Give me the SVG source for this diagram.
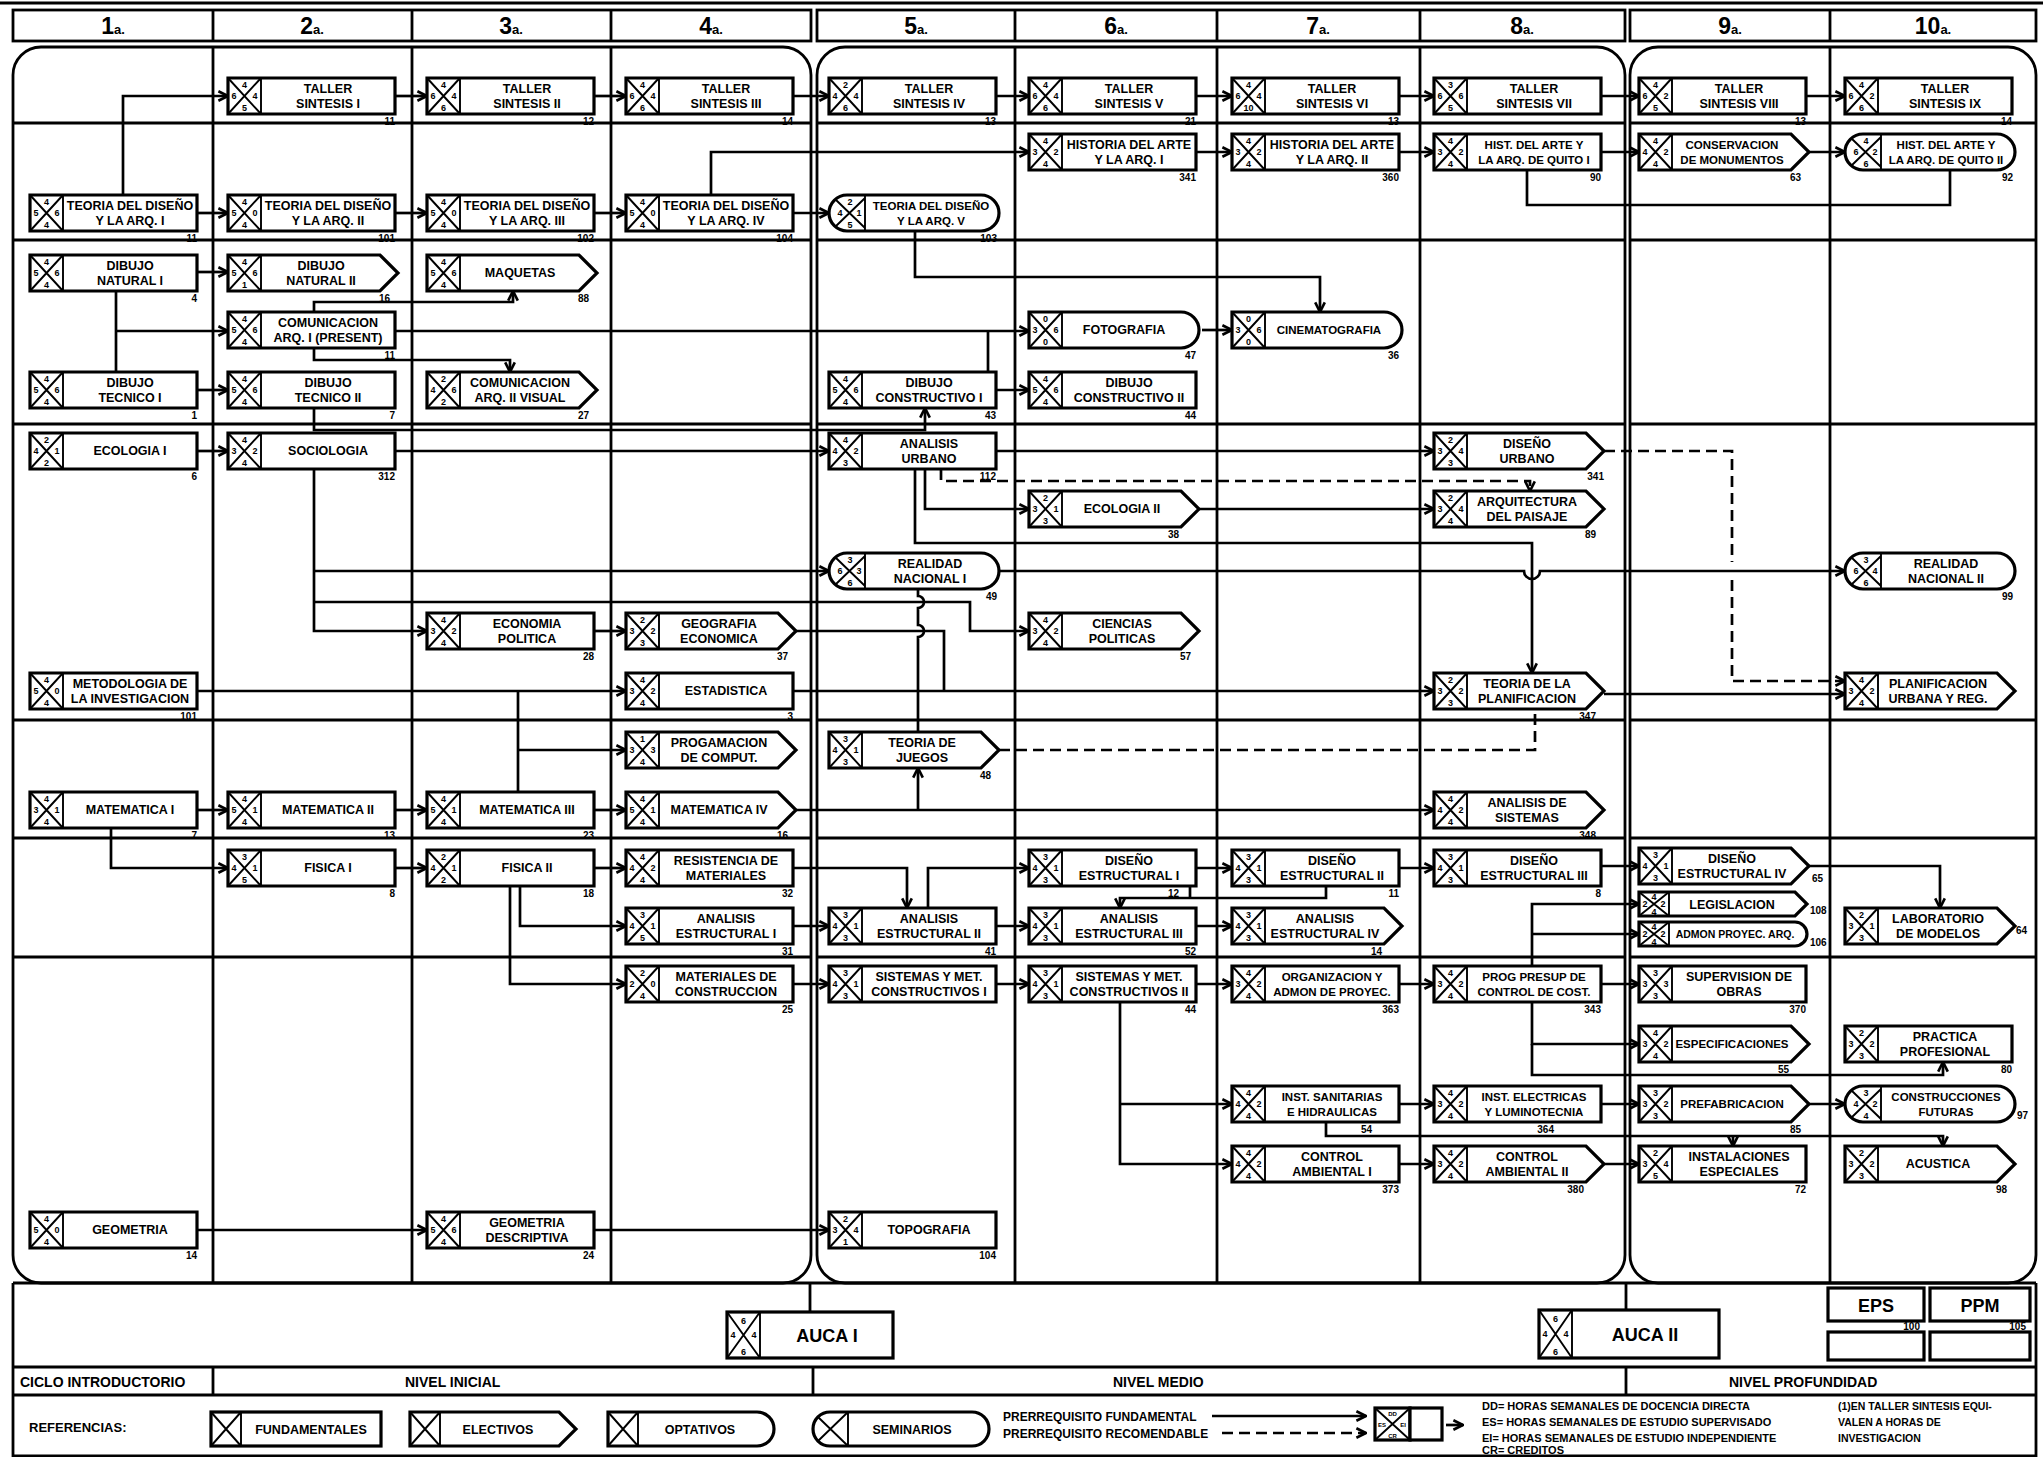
<svg xmlns="http://www.w3.org/2000/svg" width="2043" height="1457" viewBox="0 0 2043 1457">
<defs>
<style>
.g{stroke:#000;stroke-width:2.8;fill:none}
.c{stroke:#000;stroke-width:2.7;fill:none;marker-end:url(#a)}
.c0{stroke:#000;stroke-width:2.7;fill:none}
.d{stroke-dasharray:11 6}
.nb{fill:#fff;stroke:#000;stroke-width:3.2}
.xq{fill:none;stroke:#000;stroke-width:1.9}
text{font-family:"Liberation Sans",Arial,sans-serif;font-weight:bold;fill:#000}
.lb{font-size:12.5px;text-anchor:middle}
.ls{font-size:11.5px;text-anchor:middle}
.cd{font-size:9px;text-anchor:middle}
.nm{font-size:10px;text-anchor:end}
.ns{font-size:10px;text-anchor:start}
.hd{font-size:23px;text-anchor:middle}
.nv{font-size:14px}
.sm{font-size:11px}
</style>
<marker id="a" viewBox="0 0 10 10" refX="9" refY="5" markerWidth="12" markerHeight="12" markerUnits="userSpaceOnUse" orient="auto"><path d="M1,1L9,5L1,9" fill="none" stroke="#000" stroke-width="2.2"/></marker>
<path id="r" d="M0,0H167V36H0Z"/>
<path id="p" d="M0,0H152L170,18L152,36H0Z"/>
<path id="o" d="M0,0H152A18,18 0 0 1 152,36H0Z"/>
<path id="s" d="M18,0H152A18,18 0 0 1 152,36H18A18,18 0 0 1 18,0Z"/>
<path id="x" d="M33,0V36M0,0L33,36M33,0L0,36"/>
<path id="xs" d="M36,0V36M6,4L36,33M36,3L6,32"/>
<path id="p24" d="M0,0H156L168,12L156,24H0Z"/>
<path id="o24" d="M0,0H156A12,12 0 0 1 156,24H0Z"/>
<path id="x24" d="M30,0V24M0,0L30,24M30,0L0,24"/>
</defs>
<rect x="0" y="0" width="2043" height="1457" fill="#fff"/>

<g id="grid">
<path class="g" d="M0,3H2043"/>
<rect class="g" x="13" y="10" width="798" height="31"/>
<rect class="g" x="817" y="10" width="808" height="31"/>
<rect class="g" x="1630" y="10" width="406" height="31"/>
<path class="g" d="M213,10V41M412,10V41M611,10V41M1015,10V41M1217,10V41M1420,10V41M1830,10V41"/>
<rect class="g" x="13" y="47" width="798" height="1236" rx="28"/>
<rect class="g" x="817" y="47" width="808" height="1236" rx="28"/>
<rect class="g" x="1630" y="47" width="406" height="1236" rx="28"/>
<path class="g" d="M213,47V1283M412,47V1283M611,47V1283M1015,47V1283M1217,47V1283M1420,47V1283M1830,47V1283"/>
<path class="g" d="M13,123H811M817,123H1625M1630,123H2036M13,240H811M817,240H1625M1630,240H2036M13,424H811M817,424H1625M1630,424H2036M13,720H811M817,720H1625M1630,720H2036M13,838H811M817,838H1625M1630,838H2036M13,957H811M817,957H1625M1630,957H2036"/>
<path class="g" d="M13,1283H2036M13,1283V1456H2036V1283M13,1367H2036M13,1395H2036M213,1367V1395M813,1367V1395M1626,1367V1395"/>
<path class="g" d="M810,1283V1312M1626,1283V1310"/>
</g>

<g id="headers">
<text class="hd" x="113" y="34">1<tspan font-size="13">a.</tspan></text>
<text class="hd" x="312" y="34">2<tspan font-size="13">a.</tspan></text>
<text class="hd" x="511" y="34">3<tspan font-size="13">a.</tspan></text>
<text class="hd" x="711" y="34">4<tspan font-size="13">a.</tspan></text>
<text class="hd" x="916" y="34">5<tspan font-size="13">a.</tspan></text>
<text class="hd" x="1116" y="34">6<tspan font-size="13">a.</tspan></text>
<text class="hd" x="1318" y="34">7<tspan font-size="13">a.</tspan></text>
<text class="hd" x="1522" y="34">8<tspan font-size="13">a.</tspan></text>
<text class="hd" x="1730" y="34">9<tspan font-size="13">a.</tspan></text>
<text class="hd" x="1933" y="34">10<tspan font-size="13">a.</tspan></text>
</g>

<g id="connectors">
<path class="c" d="M123,195V96H228"/>
<path class="c" d="M395,96H427"/>
<path class="c" d="M594,96H626"/>
<path class="c" d="M793,96H829"/>
<path class="c" d="M996,96H1029"/>
<path class="c" d="M1196,96H1232"/>
<path class="c" d="M1399,96H1434"/>
<path class="c" d="M1601,96H1639"/>
<path class="c" d="M1806,96H1845"/>
<path class="c" d="M711,195V152H1029"/>
<path class="c" d="M1196,152H1232"/>
<path class="c" d="M1399,152H1434"/>
<path class="c" d="M1601,152H1639"/>
<path class="c" d="M1809,152H1845"/>
<path class="c0" d="M1527,170V205H1950V170"/>
<path class="c" d="M197,213H228"/>
<path class="c" d="M395,213H427"/>
<path class="c" d="M594,213H626"/>
<path class="c" d="M793,213H829"/>
<path class="c" d="M915,231V277H1320V312"/>
<path class="c" d="M197,272H228"/>
<path class="c0" d="M116,291V372"/>
<path class="c" d="M116,331H228"/>
<path class="c" d="M395,331H1029"/>
<path class="c" d="M1202,330H1232"/>
<path class="c0" d="M988,331V372"/>
<path class="c" d="M314,312V302H513V291"/>
<path class="c" d="M314,348V360H510V372"/>
<path class="c" d="M197,390H228"/>
<path class="c" d="M314,408V430H925V408"/>
<path class="c" d="M996,390H1029"/>
<path class="c" d="M197,451H228"/>
<path class="c" d="M395,451H829"/>
<path class="c" d="M996,451H1434"/>
<path class="c d" d="M1604,451H1732V562M1732,580V681H1845"/>
<path class="c d" d="M941,469V481H1530V491"/>
<path class="c" d="M925,469V509H1029"/>
<path class="c" d="M1199,509H1434"/>
<path class="c" d="M915,469V543H1532V673"/>
<path class="c" d="M314,469V631H427"/>
<path class="c" d="M314,571H829"/>
<path class="c" d="M314,602H970V631H1029"/>
<path class="c" d="M999,571H1524A8,8 0 0 0 1540,571H1845"/>
<path class="c" d="M594,631H626"/>
<path class="c0" d="M796,631H944V691"/>
<path class="c" d="M197,691H626"/>
<path class="c0" d="M518,691V792"/>
<path class="c" d="M518,750H626"/>
<path class="c" d="M793,691H1434"/>
<path class="c" d="M1604,694H1845"/>
<path class="c0" d="M918,589V596A6,6 0 0 1 918,608V625A6,6 0 0 1 918,637V732"/>
<path class="c0 d" d="M999,750H1535V709"/>
<path class="c" d="M197,810H228"/>
<path class="c" d="M395,810H427"/>
<path class="c" d="M594,810H626"/>
<path class="c" d="M796,810H1434"/>
<path class="c" d="M918,810V768"/>
<path class="c" d="M111,828V868H228"/>
<path class="c" d="M395,868H427"/>
<path class="c" d="M594,868H626"/>
<path class="c" d="M520,886V926H626"/>
<path class="c" d="M510,886V984H626"/>
<path class="c" d="M793,868H907V908"/>
<path class="c" d="M928,908V868H1029"/>
<path class="c" d="M793,926H829"/>
<path class="c" d="M996,926H1029"/>
<path class="c" d="M1196,926H1232"/>
<path class="c" d="M1196,868H1232"/>
<path class="c" d="M1399,868H1434"/>
<path class="c" d="M1601,866H1639"/>
<path class="c" d="M1190,886V898M1326,886V898H1120V908"/>
<path class="c" d="M1809,866H1940V908"/>
<path class="c" d="M793,984H829"/>
<path class="c" d="M996,984H1029"/>
<path class="c" d="M1196,984H1232"/>
<path class="c" d="M1399,984H1434"/>
<path class="c" d="M1601,984H1639"/>
<path class="c" d="M1532,966V904H1639"/>
<path class="c" d="M1532,934H1639"/>
<path class="c" d="M1532,1002V1044H1639"/>
<path class="c" d="M1532,1044V1075H1943V1062"/>
<path class="c" d="M1120,1002V1164H1232"/>
<path class="c" d="M1120,1104H1232"/>
<path class="c" d="M1399,1104H1434"/>
<path class="c" d="M1601,1104H1639"/>
<path class="c" d="M1326,1122V1136H1943V1146"/>
<path class="c" d="M1733,1136V1146"/>
<path class="c" d="M1399,1164H1434"/>
<path class="c" d="M1604,1164H1639"/>
<path class="c" d="M1809,1104H1845"/>
<path class="c" d="M197,1230H427"/>
<path class="c" d="M594,1230H829"/>
</g>

<g id="n-taller1" transform="translate(228,78)"><use href="#r" class="nb"/><use href="#x" class="xq"/><text class="cd"><tspan x="16.5" y="10">4</tspan><tspan x="6" y="21">6</tspan><tspan x="27" y="21">4</tspan><tspan x="16.5" y="33">5</tspan></text><text class="lb"><tspan x="100" y="15">TALLER</tspan><tspan x="100" y="30">SINTESIS I</tspan></text><text class="nm" x="167" y="47">11</text></g>
<g id="n-taller2" transform="translate(427,78)"><use href="#r" class="nb"/><use href="#x" class="xq"/><text class="cd"><tspan x="16.5" y="10">4</tspan><tspan x="6" y="21">6</tspan><tspan x="27" y="21">4</tspan><tspan x="16.5" y="33">6</tspan></text><text class="lb"><tspan x="100" y="15">TALLER</tspan><tspan x="100" y="30">SINTESIS II</tspan></text><text class="nm" x="167" y="47">12</text></g>
<g id="n-taller3" transform="translate(626,78)"><use href="#r" class="nb"/><use href="#x" class="xq"/><text class="cd"><tspan x="16.5" y="10">4</tspan><tspan x="6" y="21">6</tspan><tspan x="27" y="21">4</tspan><tspan x="16.5" y="33">6</tspan></text><text class="lb"><tspan x="100" y="15">TALLER</tspan><tspan x="100" y="30">SINTESIS III</tspan></text><text class="nm" x="167" y="47">14</text></g>
<g id="n-taller4" transform="translate(829,78)"><use href="#r" class="nb"/><use href="#x" class="xq"/><text class="cd"><tspan x="16.5" y="10">2</tspan><tspan x="6" y="21">4</tspan><tspan x="27" y="21">4</tspan><tspan x="16.5" y="33">6</tspan></text><text class="lb"><tspan x="100" y="15">TALLER</tspan><tspan x="100" y="30">SINTESIS IV</tspan></text><text class="nm" x="167" y="47">13</text></g>
<g id="n-taller5" transform="translate(1029,78)"><use href="#r" class="nb"/><use href="#x" class="xq"/><text class="cd"><tspan x="16.5" y="10">4</tspan><tspan x="6" y="21">6</tspan><tspan x="27" y="21">4</tspan><tspan x="16.5" y="33">6</tspan></text><text class="lb"><tspan x="100" y="15">TALLER</tspan><tspan x="100" y="30">SINTESIS V</tspan></text><text class="nm" x="167" y="47">21</text></g>
<g id="n-taller6" transform="translate(1232,78)"><use href="#r" class="nb"/><use href="#x" class="xq"/><text class="cd"><tspan x="16.5" y="10">4</tspan><tspan x="6" y="21">6</tspan><tspan x="27" y="21">4</tspan><tspan x="16.5" y="33">10</tspan></text><text class="lb"><tspan x="100" y="15">TALLER</tspan><tspan x="100" y="30">SINTESIS VI</tspan></text><text class="nm" x="167" y="47">13</text></g>
<g id="n-taller7" transform="translate(1434,78)"><use href="#r" class="nb"/><use href="#x" class="xq"/><text class="cd"><tspan x="16.5" y="10">3</tspan><tspan x="6" y="21">6</tspan><tspan x="27" y="21">6</tspan><tspan x="16.5" y="33">5</tspan></text><text class="lb"><tspan x="100" y="15">TALLER</tspan><tspan x="100" y="30">SINTESIS VII</tspan></text></g>
<g id="n-taller8" transform="translate(1639,78)"><use href="#r" class="nb"/><use href="#x" class="xq"/><text class="cd"><tspan x="16.5" y="10">4</tspan><tspan x="6" y="21">6</tspan><tspan x="27" y="21">2</tspan><tspan x="16.5" y="33">5</tspan></text><text class="lb"><tspan x="100" y="15">TALLER</tspan><tspan x="100" y="30">SINTESIS VIII</tspan></text><text class="nm" x="167" y="47">13</text></g>
<g id="n-taller9" transform="translate(1845,78)"><use href="#r" class="nb"/><use href="#x" class="xq"/><text class="cd"><tspan x="16.5" y="10">4</tspan><tspan x="6" y="21">6</tspan><tspan x="27" y="21">2</tspan><tspan x="16.5" y="33">6</tspan></text><text class="lb"><tspan x="100" y="15">TALLER</tspan><tspan x="100" y="30">SINTESIS IX</tspan></text><text class="nm" x="167" y="47">14</text></g>

<g id="n-historia1" transform="translate(1029,134)"><use href="#r" class="nb"/><use href="#x" class="xq"/><text class="cd"><tspan x="16.5" y="10">4</tspan><tspan x="6" y="21">3</tspan><tspan x="27" y="21">2</tspan><tspan x="16.5" y="33">4</tspan></text><text class="lb"><tspan x="100" y="15">HISTORIA DEL ARTE</tspan><tspan x="100" y="30">Y LA ARQ. I</tspan></text><text class="nm" x="167" y="47">341</text></g>
<g id="n-historia2" transform="translate(1232,134)"><use href="#r" class="nb"/><use href="#x" class="xq"/><text class="cd"><tspan x="16.5" y="10">4</tspan><tspan x="6" y="21">3</tspan><tspan x="27" y="21">2</tspan><tspan x="16.5" y="33">4</tspan></text><text class="lb"><tspan x="100" y="15">HISTORIA DEL ARTE</tspan><tspan x="100" y="30">Y LA ARQ. II</tspan></text><text class="nm" x="167" y="47">360</text></g>
<g id="n-hquito1" transform="translate(1434,134)"><use href="#r" class="nb"/><use href="#x" class="xq"/><text class="cd"><tspan x="16.5" y="10">4</tspan><tspan x="6" y="21">3</tspan><tspan x="27" y="21">2</tspan><tspan x="16.5" y="33">4</tspan></text><text class="ls"><tspan x="100" y="15">HIST. DEL ARTE Y</tspan><tspan x="100" y="30">LA ARQ. DE QUITO I</tspan></text><text class="nm" x="167" y="47">90</text></g>
<g id="n-conserv" transform="translate(1639,134)"><use href="#p" class="nb"/><use href="#x" class="xq"/><text class="cd"><tspan x="16.5" y="10">4</tspan><tspan x="6" y="21">4</tspan><tspan x="27" y="21">2</tspan><tspan x="16.5" y="33">4</tspan></text><text class="ls"><tspan x="93" y="15">CONSERVACION</tspan><tspan x="93" y="30">DE MONUMENTOS</tspan></text><text class="nm" x="162" y="47">63</text></g>
<g id="n-hquito2" transform="translate(1845,134)"><use href="#s" class="nb"/><use href="#xs" class="xq"/><text class="cd"><tspan x="21" y="10">4</tspan><tspan x="11" y="21">6</tspan><tspan x="30" y="21">2</tspan><tspan x="21" y="33">6</tspan></text><text class="ls"><tspan x="101" y="15">HIST. DEL ARTE Y</tspan><tspan x="101" y="30">LA ARQ. DE QUITO II</tspan></text><text class="nm" x="168" y="47">92</text></g>

<g id="n-teoria1" transform="translate(30,195)"><use href="#r" class="nb"/><use href="#x" class="xq"/><text class="cd"><tspan x="16.5" y="10">4</tspan><tspan x="6" y="21">5</tspan><tspan x="27" y="21">6</tspan><tspan x="16.5" y="33">4</tspan></text><text class="lb"><tspan x="100" y="15">TEORIA DEL DISEÑO</tspan><tspan x="100" y="30">Y LA ARQ. I</tspan></text><text class="nm" x="167" y="47">11</text></g>
<g id="n-teoria2" transform="translate(228,195)"><use href="#r" class="nb"/><use href="#x" class="xq"/><text class="cd"><tspan x="16.5" y="10">4</tspan><tspan x="6" y="21">5</tspan><tspan x="27" y="21">0</tspan><tspan x="16.5" y="33">4</tspan></text><text class="lb"><tspan x="100" y="15">TEORIA DEL DISEÑO</tspan><tspan x="100" y="30">Y LA ARQ. II</tspan></text><text class="nm" x="167" y="47">101</text></g>
<g id="n-teoria3" transform="translate(427,195)"><use href="#r" class="nb"/><use href="#x" class="xq"/><text class="cd"><tspan x="16.5" y="10">4</tspan><tspan x="6" y="21">5</tspan><tspan x="27" y="21">0</tspan><tspan x="16.5" y="33">4</tspan></text><text class="lb"><tspan x="100" y="15">TEORIA DEL DISEÑO</tspan><tspan x="100" y="30">Y LA ARQ. III</tspan></text><text class="nm" x="167" y="47">102</text></g>
<g id="n-teoria4" transform="translate(626,195)"><use href="#r" class="nb"/><use href="#x" class="xq"/><text class="cd"><tspan x="16.5" y="10">4</tspan><tspan x="6" y="21">5</tspan><tspan x="27" y="21">0</tspan><tspan x="16.5" y="33">4</tspan></text><text class="lb"><tspan x="100" y="15">TEORIA DEL DISEÑO</tspan><tspan x="100" y="30">Y LA ARQ. IV</tspan></text><text class="nm" x="167" y="47">104</text></g>
<g id="n-teoria5" transform="translate(829,195)"><use href="#s" class="nb"/><use href="#xs" class="xq"/><text class="cd"><tspan x="21" y="10">2</tspan><tspan x="11" y="21">4</tspan><tspan x="30" y="21">1</tspan><tspan x="21" y="33">5</tspan></text><text class="ls"><tspan x="102" y="15">TEORIA DEL DISEÑO</tspan><tspan x="102" y="30">Y LA ARQ. V</tspan></text><text class="nm" x="168" y="47">103</text></g>

<g id="n-dibnat1" transform="translate(30,255)"><use href="#r" class="nb"/><use href="#x" class="xq"/><text class="cd"><tspan x="16.5" y="10">4</tspan><tspan x="6" y="21">5</tspan><tspan x="27" y="21">6</tspan><tspan x="16.5" y="33">4</tspan></text><text class="lb"><tspan x="100" y="15">DIBUJO</tspan><tspan x="100" y="30">NATURAL I</tspan></text><text class="nm" x="167" y="47">4</text></g>
<g id="n-dibnat2" transform="translate(228,255)"><use href="#p" class="nb"/><use href="#x" class="xq"/><text class="cd"><tspan x="16.5" y="10">4</tspan><tspan x="6" y="21">5</tspan><tspan x="27" y="21">6</tspan><tspan x="16.5" y="33">1</tspan></text><text class="lb"><tspan x="93" y="15">DIBUJO</tspan><tspan x="93" y="30">NATURAL II</tspan></text><text class="nm" x="162" y="47">16</text></g>
<g id="n-maquetas" transform="translate(427,255)"><use href="#p" class="nb"/><use href="#x" class="xq"/><text class="cd"><tspan x="16.5" y="10">4</tspan><tspan x="6" y="21">5</tspan><tspan x="27" y="21">6</tspan><tspan x="16.5" y="33">4</tspan></text><text class="lb"><tspan x="93" y="22">MAQUETAS</tspan></text><text class="nm" x="162" y="47">88</text></g>
<g id="n-comun1" transform="translate(228,312)"><use href="#r" class="nb"/><use href="#x" class="xq"/><text class="cd"><tspan x="16.5" y="10">4</tspan><tspan x="6" y="21">5</tspan><tspan x="27" y="21">6</tspan><tspan x="16.5" y="33">4</tspan></text><text class="lb"><tspan x="100" y="15">COMUNICACION</tspan><tspan x="100" y="30">ARQ. I (PRESENT)</tspan></text><text class="nm" x="167" y="47">11</text></g>
<g id="n-fotografia" transform="translate(1029,312)"><use href="#o" class="nb"/><use href="#x" class="xq"/><text class="cd"><tspan x="16.5" y="10">0</tspan><tspan x="6" y="21">3</tspan><tspan x="27" y="21">6</tspan><tspan x="16.5" y="33">0</tspan></text><text class="lb"><tspan x="95" y="22">FOTOGRAFIA</tspan></text><text class="nm" x="167" y="47">47</text></g>
<g id="n-cinemato" transform="translate(1232,312)"><use href="#o" class="nb"/><use href="#x" class="xq"/><text class="cd"><tspan x="16.5" y="10">0</tspan><tspan x="6" y="21">3</tspan><tspan x="27" y="21">6</tspan><tspan x="16.5" y="33">0</tspan></text><text class="ls"><tspan x="97" y="22">CINEMATOGRAFIA</tspan></text><text class="nm" x="167" y="47">36</text></g>
<g id="n-dibtec1" transform="translate(30,372)"><use href="#r" class="nb"/><use href="#x" class="xq"/><text class="cd"><tspan x="16.5" y="10">4</tspan><tspan x="6" y="21">5</tspan><tspan x="27" y="21">6</tspan><tspan x="16.5" y="33">4</tspan></text><text class="lb"><tspan x="100" y="15">DIBUJO</tspan><tspan x="100" y="30">TECNICO I</tspan></text><text class="nm" x="167" y="47">1</text></g>
<g id="n-dibtec2" transform="translate(228,372)"><use href="#r" class="nb"/><use href="#x" class="xq"/><text class="cd"><tspan x="16.5" y="10">4</tspan><tspan x="6" y="21">5</tspan><tspan x="27" y="21">6</tspan><tspan x="16.5" y="33">4</tspan></text><text class="lb"><tspan x="100" y="15">DIBUJO</tspan><tspan x="100" y="30">TECNICO II</tspan></text><text class="nm" x="167" y="47">7</text></g>
<g id="n-comun2" transform="translate(427,372)"><use href="#p" class="nb"/><use href="#x" class="xq"/><text class="cd"><tspan x="16.5" y="10">2</tspan><tspan x="6" y="21">4</tspan><tspan x="27" y="21">6</tspan><tspan x="16.5" y="33">2</tspan></text><text class="lb"><tspan x="93" y="15">COMUNICACION</tspan><tspan x="93" y="30">ARQ. II VISUAL</tspan></text><text class="nm" x="162" y="47">27</text></g>
<g id="n-dibcons1" transform="translate(829,372)"><use href="#r" class="nb"/><use href="#x" class="xq"/><text class="cd"><tspan x="16.5" y="10">4</tspan><tspan x="6" y="21">5</tspan><tspan x="27" y="21">6</tspan><tspan x="16.5" y="33">4</tspan></text><text class="lb"><tspan x="100" y="15">DIBUJO</tspan><tspan x="100" y="30">CONSTRUCTIVO I</tspan></text><text class="nm" x="167" y="47">43</text></g>
<g id="n-dibcons2" transform="translate(1029,372)"><use href="#r" class="nb"/><use href="#x" class="xq"/><text class="cd"><tspan x="16.5" y="10">4</tspan><tspan x="6" y="21">5</tspan><tspan x="27" y="21">6</tspan><tspan x="16.5" y="33">4</tspan></text><text class="lb"><tspan x="100" y="15">DIBUJO</tspan><tspan x="100" y="30">CONSTRUCTIVO II</tspan></text><text class="nm" x="167" y="47">44</text></g>

<g id="n-ecologia1" transform="translate(30,433)"><use href="#r" class="nb"/><use href="#x" class="xq"/><text class="cd"><tspan x="16.5" y="10">2</tspan><tspan x="6" y="21">4</tspan><tspan x="27" y="21">1</tspan><tspan x="16.5" y="33">2</tspan></text><text class="lb"><tspan x="100" y="22">ECOLOGIA I</tspan></text><text class="nm" x="167" y="47">6</text></g>
<g id="n-sociologia" transform="translate(228,433)"><use href="#r" class="nb"/><use href="#x" class="xq"/><text class="cd"><tspan x="16.5" y="10">4</tspan><tspan x="6" y="21">3</tspan><tspan x="27" y="21">2</tspan><tspan x="16.5" y="33">4</tspan></text><text class="lb"><tspan x="100" y="22">SOCIOLOGIA</tspan></text><text class="nm" x="167" y="47">312</text></g>
<g id="n-analurb" transform="translate(829,433)"><use href="#r" class="nb"/><use href="#x" class="xq"/><text class="cd"><tspan x="16.5" y="10">4</tspan><tspan x="6" y="21">4</tspan><tspan x="27" y="21">2</tspan><tspan x="16.5" y="33">3</tspan></text><text class="lb"><tspan x="100" y="15">ANALISIS</tspan><tspan x="100" y="30">URBANO</tspan></text><text class="nm" x="167" y="47">112</text></g>
<g id="n-disurb" transform="translate(1434,433)"><use href="#p" class="nb"/><use href="#x" class="xq"/><text class="cd"><tspan x="16.5" y="10">2</tspan><tspan x="6" y="21">3</tspan><tspan x="27" y="21">4</tspan><tspan x="16.5" y="33">3</tspan></text><text class="lb"><tspan x="93" y="15">DISEÑO</tspan><tspan x="93" y="30">URBANO</tspan></text><text class="nm" x="170" y="47">341</text></g>
<g id="n-ecologia2" transform="translate(1029,491)"><use href="#p" class="nb"/><use href="#x" class="xq"/><text class="cd"><tspan x="16.5" y="10">2</tspan><tspan x="6" y="21">3</tspan><tspan x="27" y="21">1</tspan><tspan x="16.5" y="33">3</tspan></text><text class="lb"><tspan x="93" y="22">ECOLOGIA II</tspan></text><text class="nm" x="150" y="47">38</text></g>
<g id="n-arqpaisaje" transform="translate(1434,491)"><use href="#p" class="nb"/><use href="#x" class="xq"/><text class="cd"><tspan x="16.5" y="10">2</tspan><tspan x="6" y="21">3</tspan><tspan x="27" y="21">4</tspan><tspan x="16.5" y="33">4</tspan></text><text class="lb"><tspan x="93" y="15">ARQUITECTURA</tspan><tspan x="93" y="30">DEL PAISAJE</tspan></text><text class="nm" x="162" y="47">89</text></g>
<g id="n-realidad1" transform="translate(829,553)"><use href="#s" class="nb"/><use href="#xs" class="xq"/><text class="cd"><tspan x="21" y="10">3</tspan><tspan x="11" y="21">6</tspan><tspan x="30" y="21">3</tspan><tspan x="21" y="33">6</tspan></text><text class="lb"><tspan x="101" y="15">REALIDAD</tspan><tspan x="101" y="30">NACIONAL I</tspan></text><text class="nm" x="168" y="47">49</text></g>
<g id="n-realidad2" transform="translate(1845,553)"><use href="#s" class="nb"/><use href="#xs" class="xq"/><text class="cd"><tspan x="21" y="10">3</tspan><tspan x="11" y="21">6</tspan><tspan x="30" y="21">4</tspan><tspan x="21" y="33">6</tspan></text><text class="lb"><tspan x="101" y="15">REALIDAD</tspan><tspan x="101" y="30">NACIONAL II</tspan></text><text class="nm" x="168" y="47">99</text></g>
<g id="n-economia" transform="translate(427,613)"><use href="#r" class="nb"/><use href="#x" class="xq"/><text class="cd"><tspan x="16.5" y="10">4</tspan><tspan x="6" y="21">3</tspan><tspan x="27" y="21">2</tspan><tspan x="16.5" y="33">4</tspan></text><text class="lb"><tspan x="100" y="15">ECONOMIA</tspan><tspan x="100" y="30">POLITICA</tspan></text><text class="nm" x="167" y="47">28</text></g>
<g id="n-geografia" transform="translate(626,613)"><use href="#p" class="nb"/><use href="#x" class="xq"/><text class="cd"><tspan x="16.5" y="10">2</tspan><tspan x="6" y="21">3</tspan><tspan x="27" y="21">2</tspan><tspan x="16.5" y="33">3</tspan></text><text class="lb"><tspan x="93" y="15">GEOGRAFIA</tspan><tspan x="93" y="30">ECONOMICA</tspan></text><text class="nm" x="162" y="47">37</text></g>
<g id="n-ciencias" transform="translate(1029,613)"><use href="#p" class="nb"/><use href="#x" class="xq"/><text class="cd"><tspan x="16.5" y="10">4</tspan><tspan x="6" y="21">3</tspan><tspan x="27" y="21">2</tspan><tspan x="16.5" y="33">4</tspan></text><text class="lb"><tspan x="93" y="15">CIENCIAS</tspan><tspan x="93" y="30">POLITICAS</tspan></text><text class="nm" x="162" y="47">57</text></g>
<g id="n-metodologia" transform="translate(30,673)"><use href="#r" class="nb"/><use href="#x" class="xq"/><text class="cd"><tspan x="16.5" y="10">4</tspan><tspan x="6" y="21">5</tspan><tspan x="27" y="21">0</tspan><tspan x="16.5" y="33">4</tspan></text><text class="lb"><tspan x="100" y="15">METODOLOGIA DE</tspan><tspan x="100" y="30">LA INVESTIGACION</tspan></text><text class="nm" x="167" y="47">101</text></g>
<g id="n-estadistica" transform="translate(626,673)"><use href="#r" class="nb"/><use href="#x" class="xq"/><text class="cd"><tspan x="16.5" y="10">4</tspan><tspan x="6" y="21">3</tspan><tspan x="27" y="21">2</tspan><tspan x="16.5" y="33">4</tspan></text><text class="lb"><tspan x="100" y="22">ESTADISTICA</tspan></text><text class="nm" x="167" y="47">3</text></g>
<g id="n-teoplan" transform="translate(1434,673)"><use href="#p" class="nb"/><use href="#x" class="xq"/><text class="cd"><tspan x="16.5" y="10">2</tspan><tspan x="6" y="21">3</tspan><tspan x="27" y="21">2</tspan><tspan x="16.5" y="33">3</tspan></text><text class="lb"><tspan x="93" y="15">TEORIA DE LA</tspan><tspan x="93" y="30">PLANIFICACION</tspan></text><text class="nm" x="162" y="47">347</text></g>
<g id="n-planurb" transform="translate(1845,673)"><use href="#p" class="nb"/><use href="#x" class="xq"/><text class="cd"><tspan x="16.5" y="10">4</tspan><tspan x="6" y="21">3</tspan><tspan x="27" y="21">2</tspan><tspan x="16.5" y="33">4</tspan></text><text class="lb"><tspan x="93" y="15">PLANIFICACION</tspan><tspan x="93" y="30">URBANA Y REG.</tspan></text></g>

<g id="n-programacion" transform="translate(626,732)"><use href="#p" class="nb"/><use href="#x" class="xq"/><text class="cd"><tspan x="16.5" y="10">1</tspan><tspan x="6" y="21">3</tspan><tspan x="27" y="21">3</tspan><tspan x="16.5" y="33">4</tspan></text><text class="lb"><tspan x="93" y="15">PROGAMACION</tspan><tspan x="93" y="30">DE COMPUT.</tspan></text></g>
<g id="n-juegos" transform="translate(829,732)"><use href="#p" class="nb"/><use href="#x" class="xq"/><text class="cd"><tspan x="16.5" y="10">3</tspan><tspan x="6" y="21">4</tspan><tspan x="27" y="21">1</tspan><tspan x="16.5" y="33">3</tspan></text><text class="lb"><tspan x="93" y="15">TEORIA DE</tspan><tspan x="93" y="30">JUEGOS</tspan></text><text class="nm" x="162" y="47">48</text></g>
<g id="n-mate1" transform="translate(30,792)"><use href="#r" class="nb"/><use href="#x" class="xq"/><text class="cd"><tspan x="16.5" y="10">4</tspan><tspan x="6" y="21">3</tspan><tspan x="27" y="21">1</tspan><tspan x="16.5" y="33">4</tspan></text><text class="lb"><tspan x="100" y="22">MATEMATICA I</tspan></text><text class="nm" x="167" y="47">7</text></g>
<g id="n-mate2" transform="translate(228,792)"><use href="#r" class="nb"/><use href="#x" class="xq"/><text class="cd"><tspan x="16.5" y="10">4</tspan><tspan x="6" y="21">5</tspan><tspan x="27" y="21">1</tspan><tspan x="16.5" y="33">4</tspan></text><text class="lb"><tspan x="100" y="22">MATEMATICA II</tspan></text><text class="nm" x="167" y="47">13</text></g>
<g id="n-mate3" transform="translate(427,792)"><use href="#r" class="nb"/><use href="#x" class="xq"/><text class="cd"><tspan x="16.5" y="10">4</tspan><tspan x="6" y="21">5</tspan><tspan x="27" y="21">1</tspan><tspan x="16.5" y="33">4</tspan></text><text class="lb"><tspan x="100" y="22">MATEMATICA III</tspan></text><text class="nm" x="167" y="47">23</text></g>
<g id="n-mate4" transform="translate(626,792)"><use href="#p" class="nb"/><use href="#x" class="xq"/><text class="cd"><tspan x="16.5" y="10">4</tspan><tspan x="6" y="21">5</tspan><tspan x="27" y="21">1</tspan><tspan x="16.5" y="33">4</tspan></text><text class="lb"><tspan x="93" y="22">MATEMATICA IV</tspan></text><text class="nm" x="162" y="47">16</text></g>
<g id="n-analsist" transform="translate(1434,792)"><use href="#p" class="nb"/><use href="#x" class="xq"/><text class="cd"><tspan x="16.5" y="10">4</tspan><tspan x="6" y="21">4</tspan><tspan x="27" y="21">2</tspan><tspan x="16.5" y="33">4</tspan></text><text class="lb"><tspan x="93" y="15">ANALISIS DE</tspan><tspan x="93" y="30">SISTEMAS</tspan></text><text class="nm" x="162" y="47">348</text></g>

<g id="n-fisica1" transform="translate(228,850)"><use href="#r" class="nb"/><use href="#x" class="xq"/><text class="cd"><tspan x="16.5" y="10">3</tspan><tspan x="6" y="21">4</tspan><tspan x="27" y="21">1</tspan><tspan x="16.5" y="33">5</tspan></text><text class="lb"><tspan x="100" y="22">FISICA I</tspan></text><text class="nm" x="167" y="47">8</text></g>
<g id="n-fisica2" transform="translate(427,850)"><use href="#r" class="nb"/><use href="#x" class="xq"/><text class="cd"><tspan x="16.5" y="10">2</tspan><tspan x="6" y="21">4</tspan><tspan x="27" y="21">1</tspan><tspan x="16.5" y="33">2</tspan></text><text class="lb"><tspan x="100" y="22">FISICA II</tspan></text><text class="nm" x="167" y="47">18</text></g>
<g id="n-resistencia" transform="translate(626,850)"><use href="#r" class="nb"/><use href="#x" class="xq"/><text class="cd"><tspan x="16.5" y="10">4</tspan><tspan x="6" y="21">4</tspan><tspan x="27" y="21">2</tspan><tspan x="16.5" y="33">4</tspan></text><text class="lb"><tspan x="100" y="15">RESISTENCIA DE</tspan><tspan x="100" y="30">MATERIALES</tspan></text><text class="nm" x="167" y="47">32</text></g>
<g id="n-disest1" transform="translate(1029,850)"><use href="#r" class="nb"/><use href="#x" class="xq"/><text class="cd"><tspan x="16.5" y="10">3</tspan><tspan x="6" y="21">4</tspan><tspan x="27" y="21">1</tspan><tspan x="16.5" y="33">3</tspan></text><text class="lb"><tspan x="100" y="15">DISEÑO</tspan><tspan x="100" y="30">ESTRUCTURAL I</tspan></text><text class="nm" x="150" y="47">12</text></g>
<g id="n-disest2" transform="translate(1232,850)"><use href="#r" class="nb"/><use href="#x" class="xq"/><text class="cd"><tspan x="16.5" y="10">3</tspan><tspan x="6" y="21">4</tspan><tspan x="27" y="21">1</tspan><tspan x="16.5" y="33">3</tspan></text><text class="lb"><tspan x="100" y="15">DISEÑO</tspan><tspan x="100" y="30">ESTRUCTURAL II</tspan></text><text class="nm" x="167" y="47">11</text></g>
<g id="n-disest3" transform="translate(1434,850)"><use href="#r" class="nb"/><use href="#x" class="xq"/><text class="cd"><tspan x="16.5" y="10">3</tspan><tspan x="6" y="21">4</tspan><tspan x="27" y="21">1</tspan><tspan x="16.5" y="33">3</tspan></text><text class="lb"><tspan x="100" y="15">DISEÑO</tspan><tspan x="100" y="30">ESTRUCTURAL III</tspan></text><text class="nm" x="167" y="47">8</text></g>
<g id="n-disest4" transform="translate(1639,848)"><use href="#p" class="nb"/><use href="#x" class="xq"/><text class="cd"><tspan x="16.5" y="10">3</tspan><tspan x="6" y="21">4</tspan><tspan x="27" y="21">1</tspan><tspan x="16.5" y="33">3</tspan></text><text class="lb"><tspan x="93" y="15">DISEÑO</tspan><tspan x="93" y="30">ESTRUCTURAL IV</tspan></text><text class="ns" x="173" y="34">65</text></g>
<g id="n-legislacion" transform="translate(1639,892)"><use href="#p24" class="nb"/><use href="#x24" class="xq"/><text class="cd"><tspan x="15" y="8">4</tspan><tspan x="6" y="15">2</tspan><tspan x="24" y="15">2</tspan><tspan x="15" y="23">4</tspan></text><text class="lb"><tspan x="93" y="16.5">LEGISLACION</tspan></text><text class="ns" x="171" y="22">108</text></g>
<g id="n-admon" transform="translate(1639,922)"><use href="#o24" class="nb"/><use href="#x24" class="xq"/><text class="cd"><tspan x="15" y="8">4</tspan><tspan x="6" y="15">2</tspan><tspan x="24" y="15">2</tspan><tspan x="15" y="23">4</tspan></text><text font-size="10.5" text-anchor="middle"><tspan x="96" y="16">ADMON PROYEC. ARQ.</tspan></text><text class="ns" x="171" y="24">106</text></g>

<g id="n-anaest1" transform="translate(626,908)"><use href="#r" class="nb"/><use href="#x" class="xq"/><text class="cd"><tspan x="16.5" y="10">3</tspan><tspan x="6" y="21">4</tspan><tspan x="27" y="21">1</tspan><tspan x="16.5" y="33">5</tspan></text><text class="lb"><tspan x="100" y="15">ANALISIS</tspan><tspan x="100" y="30">ESTRUCTURAL I</tspan></text><text class="nm" x="167" y="47">31</text></g>
<g id="n-anaest2" transform="translate(829,908)"><use href="#r" class="nb"/><use href="#x" class="xq"/><text class="cd"><tspan x="16.5" y="10">3</tspan><tspan x="6" y="21">4</tspan><tspan x="27" y="21">1</tspan><tspan x="16.5" y="33">3</tspan></text><text class="lb"><tspan x="100" y="15">ANALISIS</tspan><tspan x="100" y="30">ESTRUCTURAL II</tspan></text><text class="nm" x="167" y="47">41</text></g>
<g id="n-anaest3" transform="translate(1029,908)"><use href="#r" class="nb"/><use href="#x" class="xq"/><text class="cd"><tspan x="16.5" y="10">3</tspan><tspan x="6" y="21">4</tspan><tspan x="27" y="21">1</tspan><tspan x="16.5" y="33">3</tspan></text><text class="lb"><tspan x="100" y="15">ANALISIS</tspan><tspan x="100" y="30">ESTRUCTURAL III</tspan></text><text class="nm" x="167" y="47">52</text></g>
<g id="n-anaest4" transform="translate(1232,908)"><use href="#p" class="nb"/><use href="#x" class="xq"/><text class="cd"><tspan x="16.5" y="10">3</tspan><tspan x="6" y="21">4</tspan><tspan x="27" y="21">1</tspan><tspan x="16.5" y="33">3</tspan></text><text class="lb"><tspan x="93" y="15">ANALISIS</tspan><tspan x="93" y="30">ESTRUCTURAL IV</tspan></text><text class="nm" x="150" y="47">14</text></g>
<g id="n-labmod" transform="translate(1845,908)"><use href="#p" class="nb"/><use href="#x" class="xq"/><text class="cd"><tspan x="16.5" y="10">2</tspan><tspan x="6" y="21">3</tspan><tspan x="27" y="21">1</tspan><tspan x="16.5" y="33">3</tspan></text><text class="lb"><tspan x="93" y="15">LABORATORIO</tspan><tspan x="93" y="30">DE MODELOS</tspan></text><text class="ns" x="171" y="26">64</text></g>

<g id="n-materiales" transform="translate(626,966)"><use href="#r" class="nb"/><use href="#x" class="xq"/><text class="cd"><tspan x="16.5" y="10">2</tspan><tspan x="6" y="21">2</tspan><tspan x="27" y="21">0</tspan><tspan x="16.5" y="33">4</tspan></text><text class="lb"><tspan x="100" y="15">MATERIALES DE</tspan><tspan x="100" y="30">CONSTRUCCION</tspan></text><text class="nm" x="167" y="47">25</text></g>
<g id="n-sistemas1" transform="translate(829,966)"><use href="#r" class="nb"/><use href="#x" class="xq"/><text class="cd"><tspan x="16.5" y="10">3</tspan><tspan x="6" y="21">4</tspan><tspan x="27" y="21">1</tspan><tspan x="16.5" y="33">3</tspan></text><text class="lb"><tspan x="100" y="15">SISTEMAS Y MET.</tspan><tspan x="100" y="30">CONSTRUCTIVOS I</tspan></text></g>
<g id="n-sistemas2" transform="translate(1029,966)"><use href="#r" class="nb"/><use href="#x" class="xq"/><text class="cd"><tspan x="16.5" y="10">3</tspan><tspan x="6" y="21">4</tspan><tspan x="27" y="21">1</tspan><tspan x="16.5" y="33">3</tspan></text><text class="lb"><tspan x="100" y="15">SISTEMAS Y MET.</tspan><tspan x="100" y="30">CONSTRUCTIVOS II</tspan></text><text class="nm" x="167" y="47">44</text></g>
<g id="n-organiz" transform="translate(1232,966)"><use href="#r" class="nb"/><use href="#x" class="xq"/><text class="cd"><tspan x="16.5" y="10">4</tspan><tspan x="6" y="21">3</tspan><tspan x="27" y="21">2</tspan><tspan x="16.5" y="33">4</tspan></text><text class="ls"><tspan x="100" y="15">ORGANIZACION Y</tspan><tspan x="100" y="30">ADMON DE PROYEC.</tspan></text><text class="nm" x="167" y="47">363</text></g>
<g id="n-progpres" transform="translate(1434,966)"><use href="#r" class="nb"/><use href="#x" class="xq"/><text class="cd"><tspan x="16.5" y="10">4</tspan><tspan x="6" y="21">3</tspan><tspan x="27" y="21">2</tspan><tspan x="16.5" y="33">4</tspan></text><text class="ls"><tspan x="100" y="15">PROG PRESUP DE</tspan><tspan x="100" y="30">CONTROL DE COST.</tspan></text><text class="nm" x="167" y="47">343</text></g>
<g id="n-supervision" transform="translate(1639,966)"><use href="#r" class="nb"/><use href="#x" class="xq"/><text class="cd"><tspan x="16.5" y="10">3</tspan><tspan x="6" y="21">3</tspan><tspan x="27" y="21">3</tspan><tspan x="16.5" y="33">3</tspan></text><text class="lb"><tspan x="100" y="15">SUPERVISION DE</tspan><tspan x="100" y="30">OBRAS</tspan></text><text class="nm" x="167" y="47">370</text></g>
<g id="n-especif" transform="translate(1639,1026)"><use href="#p" class="nb"/><use href="#x" class="xq"/><text class="cd"><tspan x="16.5" y="10">4</tspan><tspan x="6" y="21">3</tspan><tspan x="27" y="21">2</tspan><tspan x="16.5" y="33">4</tspan></text><text class="ls"><tspan x="93" y="22">ESPECIFICACIONES</tspan></text><text class="nm" x="150" y="47">55</text></g>
<g id="n-practica" transform="translate(1845,1026)"><use href="#r" class="nb"/><use href="#x" class="xq"/><text class="cd"><tspan x="16.5" y="10">2</tspan><tspan x="6" y="21">3</tspan><tspan x="27" y="21">2</tspan><tspan x="16.5" y="33">3</tspan></text><text class="lb"><tspan x="100" y="15">PRACTICA</tspan><tspan x="100" y="30">PROFESIONAL</tspan></text><text class="nm" x="167" y="47">80</text></g>

<g id="n-instsan" transform="translate(1232,1086)"><use href="#r" class="nb"/><use href="#x" class="xq"/><text class="cd"><tspan x="16.5" y="10">4</tspan><tspan x="6" y="21">4</tspan><tspan x="27" y="21">2</tspan><tspan x="16.5" y="33">4</tspan></text><text class="ls"><tspan x="100" y="15">INST. SANITARIAS</tspan><tspan x="100" y="30">E HIDRAULICAS</tspan></text><text class="nm" x="140" y="47">54</text></g>
<g id="n-instelec" transform="translate(1434,1086)"><use href="#r" class="nb"/><use href="#x" class="xq"/><text class="cd"><tspan x="16.5" y="10">4</tspan><tspan x="6" y="21">3</tspan><tspan x="27" y="21">2</tspan><tspan x="16.5" y="33">4</tspan></text><text class="ls"><tspan x="100" y="15">INST. ELECTRICAS</tspan><tspan x="100" y="30">Y LUMINOTECNIA</tspan></text><text class="nm" x="120" y="47">364</text></g>
<g id="n-prefab" transform="translate(1639,1086)"><use href="#p" class="nb"/><use href="#x" class="xq"/><text class="cd"><tspan x="16.5" y="10">3</tspan><tspan x="6" y="21">3</tspan><tspan x="27" y="21">2</tspan><tspan x="16.5" y="33">3</tspan></text><text class="ls"><tspan x="93" y="22">PREFABRICACION</tspan></text><text class="nm" x="162" y="47">85</text></g>
<g id="n-construcfut" transform="translate(1845,1086)"><use href="#s" class="nb"/><use href="#xs" class="xq"/><text class="cd"><tspan x="21" y="10">3</tspan><tspan x="11" y="21">4</tspan><tspan x="30" y="21">2</tspan><tspan x="21" y="33">4</tspan></text><text class="ls"><tspan x="101" y="15">CONSTRUCCIONES</tspan><tspan x="101" y="30">FUTURAS</tspan></text><text class="ns" x="172" y="33">97</text></g>
<g id="n-contamb1" transform="translate(1232,1146)"><use href="#r" class="nb"/><use href="#x" class="xq"/><text class="cd"><tspan x="16.5" y="10">4</tspan><tspan x="6" y="21">4</tspan><tspan x="27" y="21">2</tspan><tspan x="16.5" y="33">4</tspan></text><text class="lb"><tspan x="100" y="15">CONTROL</tspan><tspan x="100" y="30">AMBIENTAL I</tspan></text><text class="nm" x="167" y="47">373</text></g>
<g id="n-contamb2" transform="translate(1434,1146)"><use href="#p" class="nb"/><use href="#x" class="xq"/><text class="cd"><tspan x="16.5" y="10">4</tspan><tspan x="6" y="21">3</tspan><tspan x="27" y="21">2</tspan><tspan x="16.5" y="33">4</tspan></text><text class="lb"><tspan x="93" y="15">CONTROL</tspan><tspan x="93" y="30">AMBIENTAL II</tspan></text><text class="nm" x="150" y="47">380</text></g>
<g id="n-instesp" transform="translate(1639,1146)"><use href="#r" class="nb"/><use href="#x" class="xq"/><text class="cd"><tspan x="16.5" y="10">2</tspan><tspan x="6" y="21">3</tspan><tspan x="27" y="21">4</tspan><tspan x="16.5" y="33">5</tspan></text><text class="lb"><tspan x="100" y="15">INSTALACIONES</tspan><tspan x="100" y="30">ESPECIALES</tspan></text><text class="nm" x="167" y="47">72</text></g>
<g id="n-acustica" transform="translate(1845,1146)"><use href="#p" class="nb"/><use href="#x" class="xq"/><text class="cd"><tspan x="16.5" y="10">2</tspan><tspan x="6" y="21">3</tspan><tspan x="27" y="21">2</tspan><tspan x="16.5" y="33">3</tspan></text><text class="lb"><tspan x="93" y="22">ACUSTICA</tspan></text><text class="nm" x="162" y="47">98</text></g>

<g id="n-geometria" transform="translate(30,1212)"><use href="#r" class="nb"/><use href="#x" class="xq"/><text class="cd"><tspan x="16.5" y="10">4</tspan><tspan x="6" y="21">5</tspan><tspan x="27" y="21">0</tspan><tspan x="16.5" y="33">4</tspan></text><text class="lb"><tspan x="100" y="22">GEOMETRIA</tspan></text><text class="nm" x="167" y="47">14</text></g>
<g id="n-geodesc" transform="translate(427,1212)"><use href="#r" class="nb"/><use href="#x" class="xq"/><text class="cd"><tspan x="16.5" y="10">4</tspan><tspan x="6" y="21">5</tspan><tspan x="27" y="21">6</tspan><tspan x="16.5" y="33">4</tspan></text><text class="lb"><tspan x="100" y="15">GEOMETRIA</tspan><tspan x="100" y="30">DESCRIPTIVA</tspan></text><text class="nm" x="167" y="47">24</text></g>
<g id="n-topografia" transform="translate(829,1212)"><use href="#r" class="nb"/><use href="#x" class="xq"/><text class="cd"><tspan x="16.5" y="10">2</tspan><tspan x="6" y="21">3</tspan><tspan x="27" y="21">4</tspan><tspan x="16.5" y="33">1</tspan></text><text class="lb"><tspan x="100" y="22">TOPOGRAFIA</tspan></text><text class="nm" x="167" y="47">104</text></g>

<g id="n-auca1" transform="translate(727,1312)"><rect width="166" height="46" class="nb"/><path class="xq" d="M33,0V46M0,0L33,46M33,0L0,46"/><text class="cd"><tspan x="16.5" y="12">6</tspan><tspan x="6" y="26">4</tspan><tspan x="27" y="26">4</tspan><tspan x="16.5" y="43">6</tspan></text><text x="100" y="30" font-size="18" text-anchor="middle">AUCA I</text></g>
<g id="n-auca2" transform="translate(1539,1310)"><rect width="180" height="48" class="nb"/><path class="xq" d="M33,0V48M0,0L33,48M33,0L0,48"/><text class="cd"><tspan x="16.5" y="12">6</tspan><tspan x="6" y="27">4</tspan><tspan x="27" y="27">4</tspan><tspan x="16.5" y="45">6</tspan></text><text x="106" y="31" font-size="18" text-anchor="middle">AUCA II</text></g>
<g id="n-eps"><rect x="1828" y="1288" width="96" height="33" class="nb"/><text x="1876" y="1312" font-size="18" text-anchor="middle">EPS</text><text class="nm" x="1920" y="1330">100</text><rect x="1828" y="1332" width="96" height="28" class="nb"/></g>
<g id="n-ppm"><rect x="1930" y="1288" width="100" height="33" class="nb"/><text x="1980" y="1312" font-size="18" text-anchor="middle">PPM</text><text class="nm" x="2026" y="1330">105</text><rect x="1930" y="1332" width="100" height="28" class="nb"/></g>

<g id="niveles">
<text class="nv" x="20" y="1387">CICLO INTRODUCTORIO</text>
<text class="nv" x="405" y="1387">NIVEL INICIAL</text>
<text class="nv" x="1113" y="1387">NIVEL MEDIO</text>
<text class="nv" x="1729" y="1387">NIVEL PROFUNDIDAD</text>
</g>

<g id="legend">
<text x="29" y="1432" font-size="13">REFERENCIAS:</text>
<g id="leg-fund"><rect x="211" y="1412" width="170" height="34" class="nb"/><path class="xq" d="M241,1412V1446M211,1412L241,1446M241,1412L211,1446"/><text x="311" y="1434" class="lb">FUNDAMENTALES</text></g>
<g id="leg-elec"><path class="nb" d="M410,1412H559L576,1429L559,1446H410Z"/><path class="xq" d="M440,1412V1446M410,1412L440,1446M440,1412L410,1446"/><text x="498" y="1434" class="lb">ELECTIVOS</text></g>
<g id="leg-opt"><path class="nb" d="M608,1412H757A17,17 0 0 1 757,1446H608Z"/><path class="xq" d="M638,1412V1446M608,1412L638,1446M638,1412L608,1446"/><text x="700" y="1434" class="lb">OPTATIVOS</text></g>
<g id="leg-sem"><path class="nb" d="M830,1412H972A17,17 0 0 1 972,1446H830A17,17 0 0 1 830,1412Z"/><path class="xq" d="M848,1412V1446M818,1417L848,1446M848,1412L818,1441"/><text x="912" y="1434" class="lb">SEMINARIOS</text></g>
<text x="1003" y="1421" font-size="12">PRERREQUISITO FUNDAMENTAL</text>
<path class="c" d="M1212,1416H1366"/>
<text x="1003" y="1438" font-size="12">PRERREQUISITO RECOMENDABLE</text>
<path class="c d" d="M1222,1433H1366"/>
<g id="leg-key"><rect x="1375" y="1408" width="35" height="32" class="nb"/><path class="xq" d="M1375,1408L1410,1440M1410,1408L1375,1440"/><text font-size="6" text-anchor="middle"><tspan x="1392.5" y="1416">DD</tspan><tspan x="1382" y="1427">ES</tspan><tspan x="1403" y="1427">EI</tspan><tspan x="1392.5" y="1438">CR</tspan></text><rect x="1410" y="1408" width="32" height="32" class="nb"/><path class="c" d="M1446,1425H1463"/></g>
<text class="sm" x="1482" y="1410">DD= HORAS SEMANALES DE DOCENCIA DIRECTA</text>
<text class="sm" x="1482" y="1426">ES= HORAS SEMANALES DE ESTUDIO SUPERVISADO</text>
<text class="sm" x="1482" y="1442">EI= HORAS SEMANALES DE ESTUDIO INDEPENDIENTE</text>
<text class="sm" x="1482" y="1454">CR= CREDITOS</text>
<text x="1838" y="1410" font-size="10.5">(1)EN TALLER SINTESIS EQUI-</text>
<text x="1838" y="1426" font-size="10.5">VALEN A HORAS DE</text>
<text x="1838" y="1442" font-size="10.5">INVESTIGACION</text>
</g>
</svg>
